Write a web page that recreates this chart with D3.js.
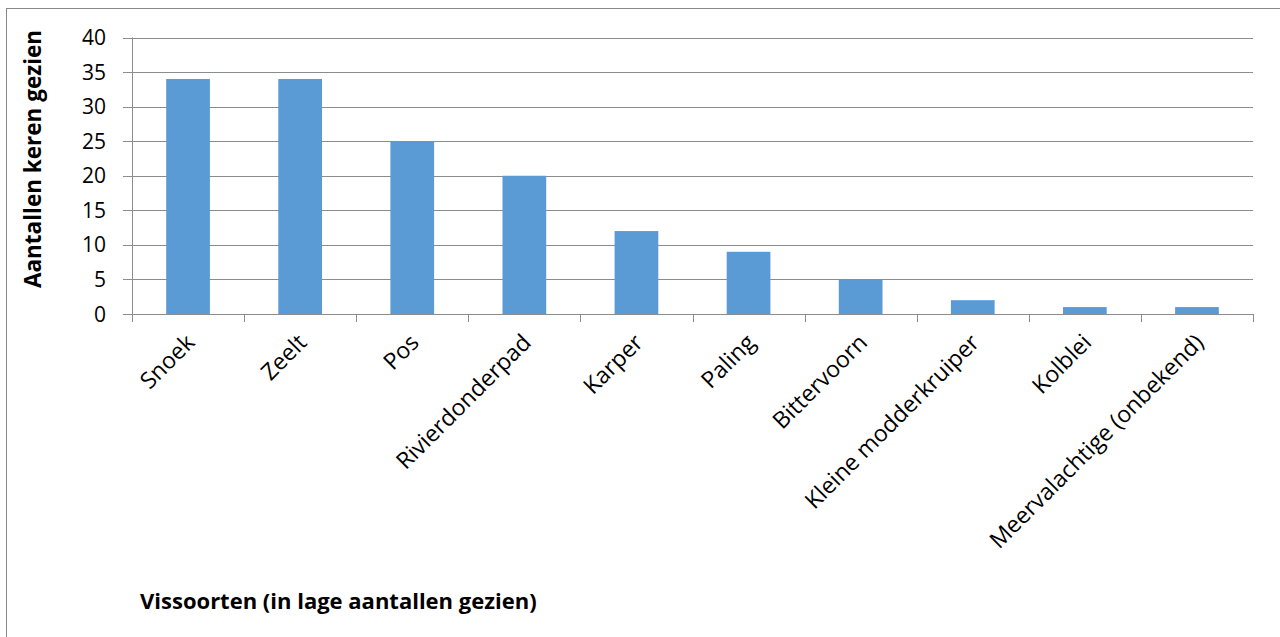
<!DOCTYPE html>
<html>
<head>
<meta charset="utf-8" />
<style type="text/css">
	*{margin:0px;padding:0px;}
	body{background:#fff;}
	text{font-family:"Open Sans", sans-serif;}
</style>
</head>
<body>
<script src="https://cdn.jsdelivr.net/npm/d3@7/dist/d3.min.js"></script>
<script type="text/javascript">
var soorten = ["Snoek","Zeelt","Pos","Rivierdonderpad","Karper","Paling","Bittervoorn","Kleine modderkruiper","Kolblei","Meervalachtige (onbekend)"];
var aantallen = [34,34,25,20,12,9,5,2,1,1];
var yTicks = [0,5,10,15,20,25,30,35,40];

var W = 1280, H = 637;
var pLeft = 132, pRight = 1253, pTop = 37.5, pBottom = 314;

var svg = d3.select("body").append("svg").attr("width", W).attr("height", H);

// border of the chart area
svg.append("rect").attr("x", 6.5).attr("y", 8.5).attr("width", 1290).attr("height", 640)
	.attr("fill", "none").attr("stroke", "#888").attr("stroke-width", 1);

var x = d3.scaleBand().domain(soorten).range([pLeft, pRight]).paddingInner(0.61).paddingOuter(0.305);
var y = d3.scaleLinear().domain([0, 40]).range([pBottom, pTop]);

// gridlines
svg.append("g").selectAll("line").data(yTicks).enter().append("line")
	.attr("x1", pLeft - 9).attr("x2", pRight)
	.attr("y1", function(d){return Math.round(y(d)) + 0.5})
	.attr("y2", function(d){return Math.round(y(d)) + 0.5})
	.attr("stroke", "#8c8c8c").attr("stroke-width", 1);

// y axis line
svg.append("line").attr("x1", pLeft + 0.5).attr("x2", pLeft + 0.5).attr("y1", pTop).attr("y2", pBottom)
	.attr("stroke", "#8c8c8c");

// category ticks
var edges = d3.range(soorten.length + 1).map(function(i){return pLeft + i * (pRight - pLeft) / soorten.length});
svg.append("g").selectAll("line").data(edges).enter().append("line")
	.attr("x1", function(d){return Math.round(d) + 0.5}).attr("x2", function(d){return Math.round(d) + 0.5})
	.attr("y1", pBottom).attr("y2", pBottom + 8)
	.attr("stroke", "#8c8c8c");

// bars
svg.append("g").selectAll("rect").data(aantallen).enter().append("rect")
	.attr("x", function(d, i){return x(soorten[i])})
	.attr("width", x.bandwidth())
	.attr("y", function(d){return y(d)})
	.attr("height", function(d){return pBottom - y(d)})
	.attr("fill", "#5b9bd5");

// y tick labels
svg.append("g").selectAll("text").data(yTicks).enter().append("text")
	.attr("x", 106).attr("y", function(d){return y(d) + 7.5})
	.attr("text-anchor", "end").attr("font-size", 21).attr("fill", "#000")
	.text(function(d){return d});

// x labels, rotated
svg.append("g").selectAll("text").data(soorten).enter().append("text")
	.attr("transform", function(d){return "translate(" + (x(d) + x.bandwidth()/2 + 8) + "," + (pBottom + 30) + ") rotate(-45)"})
	.attr("text-anchor", "end").attr("font-size", 23).attr("fill", "#000")
	.text(function(d){return d});

// axis titles
svg.append("text").attr("transform", "translate(41,159) rotate(-90)")
	.attr("text-anchor", "middle").attr("font-size", 22.5).attr("font-weight", "bold")
	.text("Aantallen keren gezien");
svg.append("text").attr("x", 140).attr("y", 609)
	.attr("font-size", 22).attr("font-weight", "bold")
	.text("Vissoorten (in lage aantallen gezien)");
</script>
</body>
</html>
